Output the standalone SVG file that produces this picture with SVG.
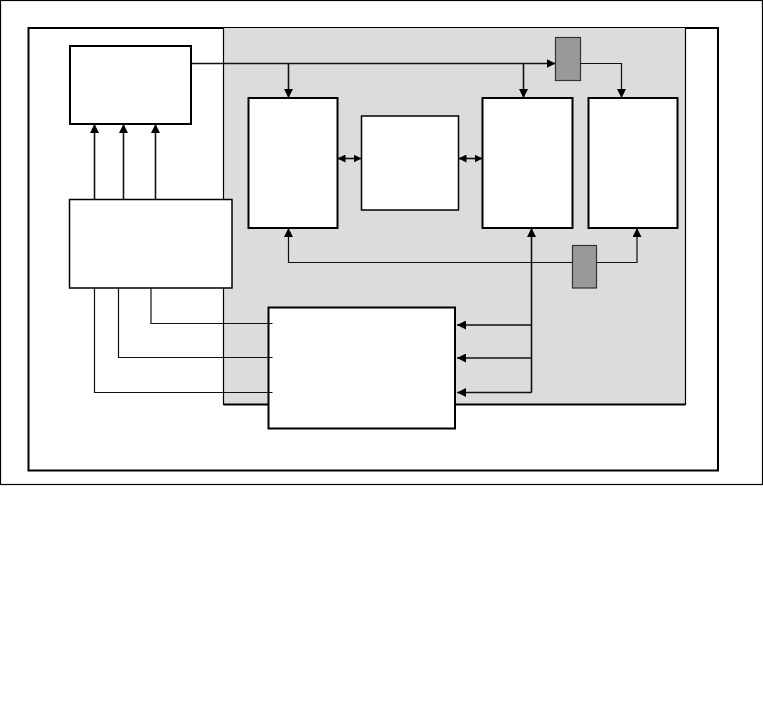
<svg xmlns="http://www.w3.org/2000/svg" width="763" height="718" viewBox="0 0 763 718">
<style>
.frame{fill:none;stroke:#000;stroke-width:1.2}
.inner{fill:#fff;stroke:#000;stroke-width:2}
.region{fill:#dcdcdc;stroke:#000;stroke-width:1.2}
.thick{fill:#fff;stroke:#000;stroke-width:2}
.thin{fill:#fff;stroke:#000;stroke-width:1.5}
.dark{fill:#999;stroke:#333;stroke-width:1.2}
.c{fill:none;stroke:#111;stroke-width:1.6}
.c1{fill:none;stroke:#111;stroke-width:1.2}
</style>
<defs>
<marker id="ah" viewBox="0 0 10 10" refX="10" refY="5" markerWidth="9" markerHeight="9" markerUnits="userSpaceOnUse" orient="auto-start-reverse">
<path d="M0,0 L10,5 L0,10 z" fill="#000"/>
</marker>
<marker id="ahs" viewBox="0 0 10 10" refX="10" refY="5" markerWidth="8" markerHeight="8" markerUnits="userSpaceOnUse" orient="auto-start-reverse">
<path d="M0,0 L10,5 L0,10 z" fill="#000"/>
</marker>
</defs>
<rect width="763" height="718" fill="#fff"/>
<g id="outer-frame"><rect class="frame" x="0.5" y="0.5" width="762" height="484"/></g>
<g id="inner-frame"><rect class="inner" x="28.5" y="28" width="689.5" height="442.5"/></g>
<g id="shaded-region">
<rect x="223.5" y="28" width="462" height="376.5" fill="#dcdcdc"/>
<path d="M223.5,28 V404.5 H685.5 V28" fill="none" stroke="#000" stroke-width="1.2"/>
<path d="M223.5,404.5 H685.5" stroke="#000" stroke-width="2"/>
</g>
<g id="box-a"><rect class="thick" x="70" y="46" width="121" height="78"/></g>
<g id="box-b"><rect class="thin" x="69.5" y="199.5" width="162.5" height="88.5"/></g>
<g id="box-c"><rect class="thick" x="248.5" y="98" width="89" height="130"/></g>
<g id="box-d"><rect class="thin" x="361.5" y="116" width="97" height="94"/></g>
<g id="box-e"><rect class="thick" x="482.5" y="98" width="90" height="130"/></g>
<g id="box-f"><rect class="thick" x="588.5" y="98" width="89" height="130"/></g>
<g id="box-g"><rect class="dark" x="555.5" y="37.5" width="25" height="43"/></g>
<g id="box-h"><rect class="dark" x="572.5" y="245.5" width="24" height="42.5"/></g>
<g id="box-i"><rect class="thick" x="268.5" y="307.5" width="186.5" height="121"/></g>
<g id="connectors">
<path class="c" d="M94.5,199.5 V124" marker-end="url(#ah)"/>
<path class="c" d="M123.5,199.5 V124" marker-end="url(#ah)"/>
<path class="c" d="M155.5,199.5 V124" marker-end="url(#ah)"/>
<path class="c" d="M191,63.5 H555.5" marker-end="url(#ah)"/>
<path class="c" d="M288.5,63.5 V98" marker-end="url(#ah)"/>
<path class="c" d="M523.5,63.5 V98" marker-end="url(#ah)"/>
<path class="c1" d="M580.5,63.5 H621.5 V98" marker-end="url(#ah)"/>
<path class="c" d="M337.5,158.5 H361.5" marker-start="url(#ahs)" marker-end="url(#ahs)"/>
<path class="c" d="M458.5,158.5 H482.5" marker-start="url(#ahs)" marker-end="url(#ahs)"/>
<path class="c1" d="M572.5,262.5 H288.5 V228" marker-end="url(#ah)"/>
<path class="c1" d="M596.5,262.5 H637 V228" marker-end="url(#ah)"/>
<path class="c" d="M531.5,392.5 V228" marker-end="url(#ah)"/>
<path class="c" d="M531.5,325 H457" marker-end="url(#ah)"/>
<path class="c" d="M531.5,358 H457" marker-end="url(#ah)"/>
<path class="c" d="M531.5,392.5 H457" marker-end="url(#ah)"/>
<path class="c1" d="M151,288 V323.5 H272.5"/>
<path class="c1" d="M118.5,288 V357.5 H272.5"/>
<path class="c1" d="M94.5,288 V392.5 H272.5"/>
</g>
</svg>
